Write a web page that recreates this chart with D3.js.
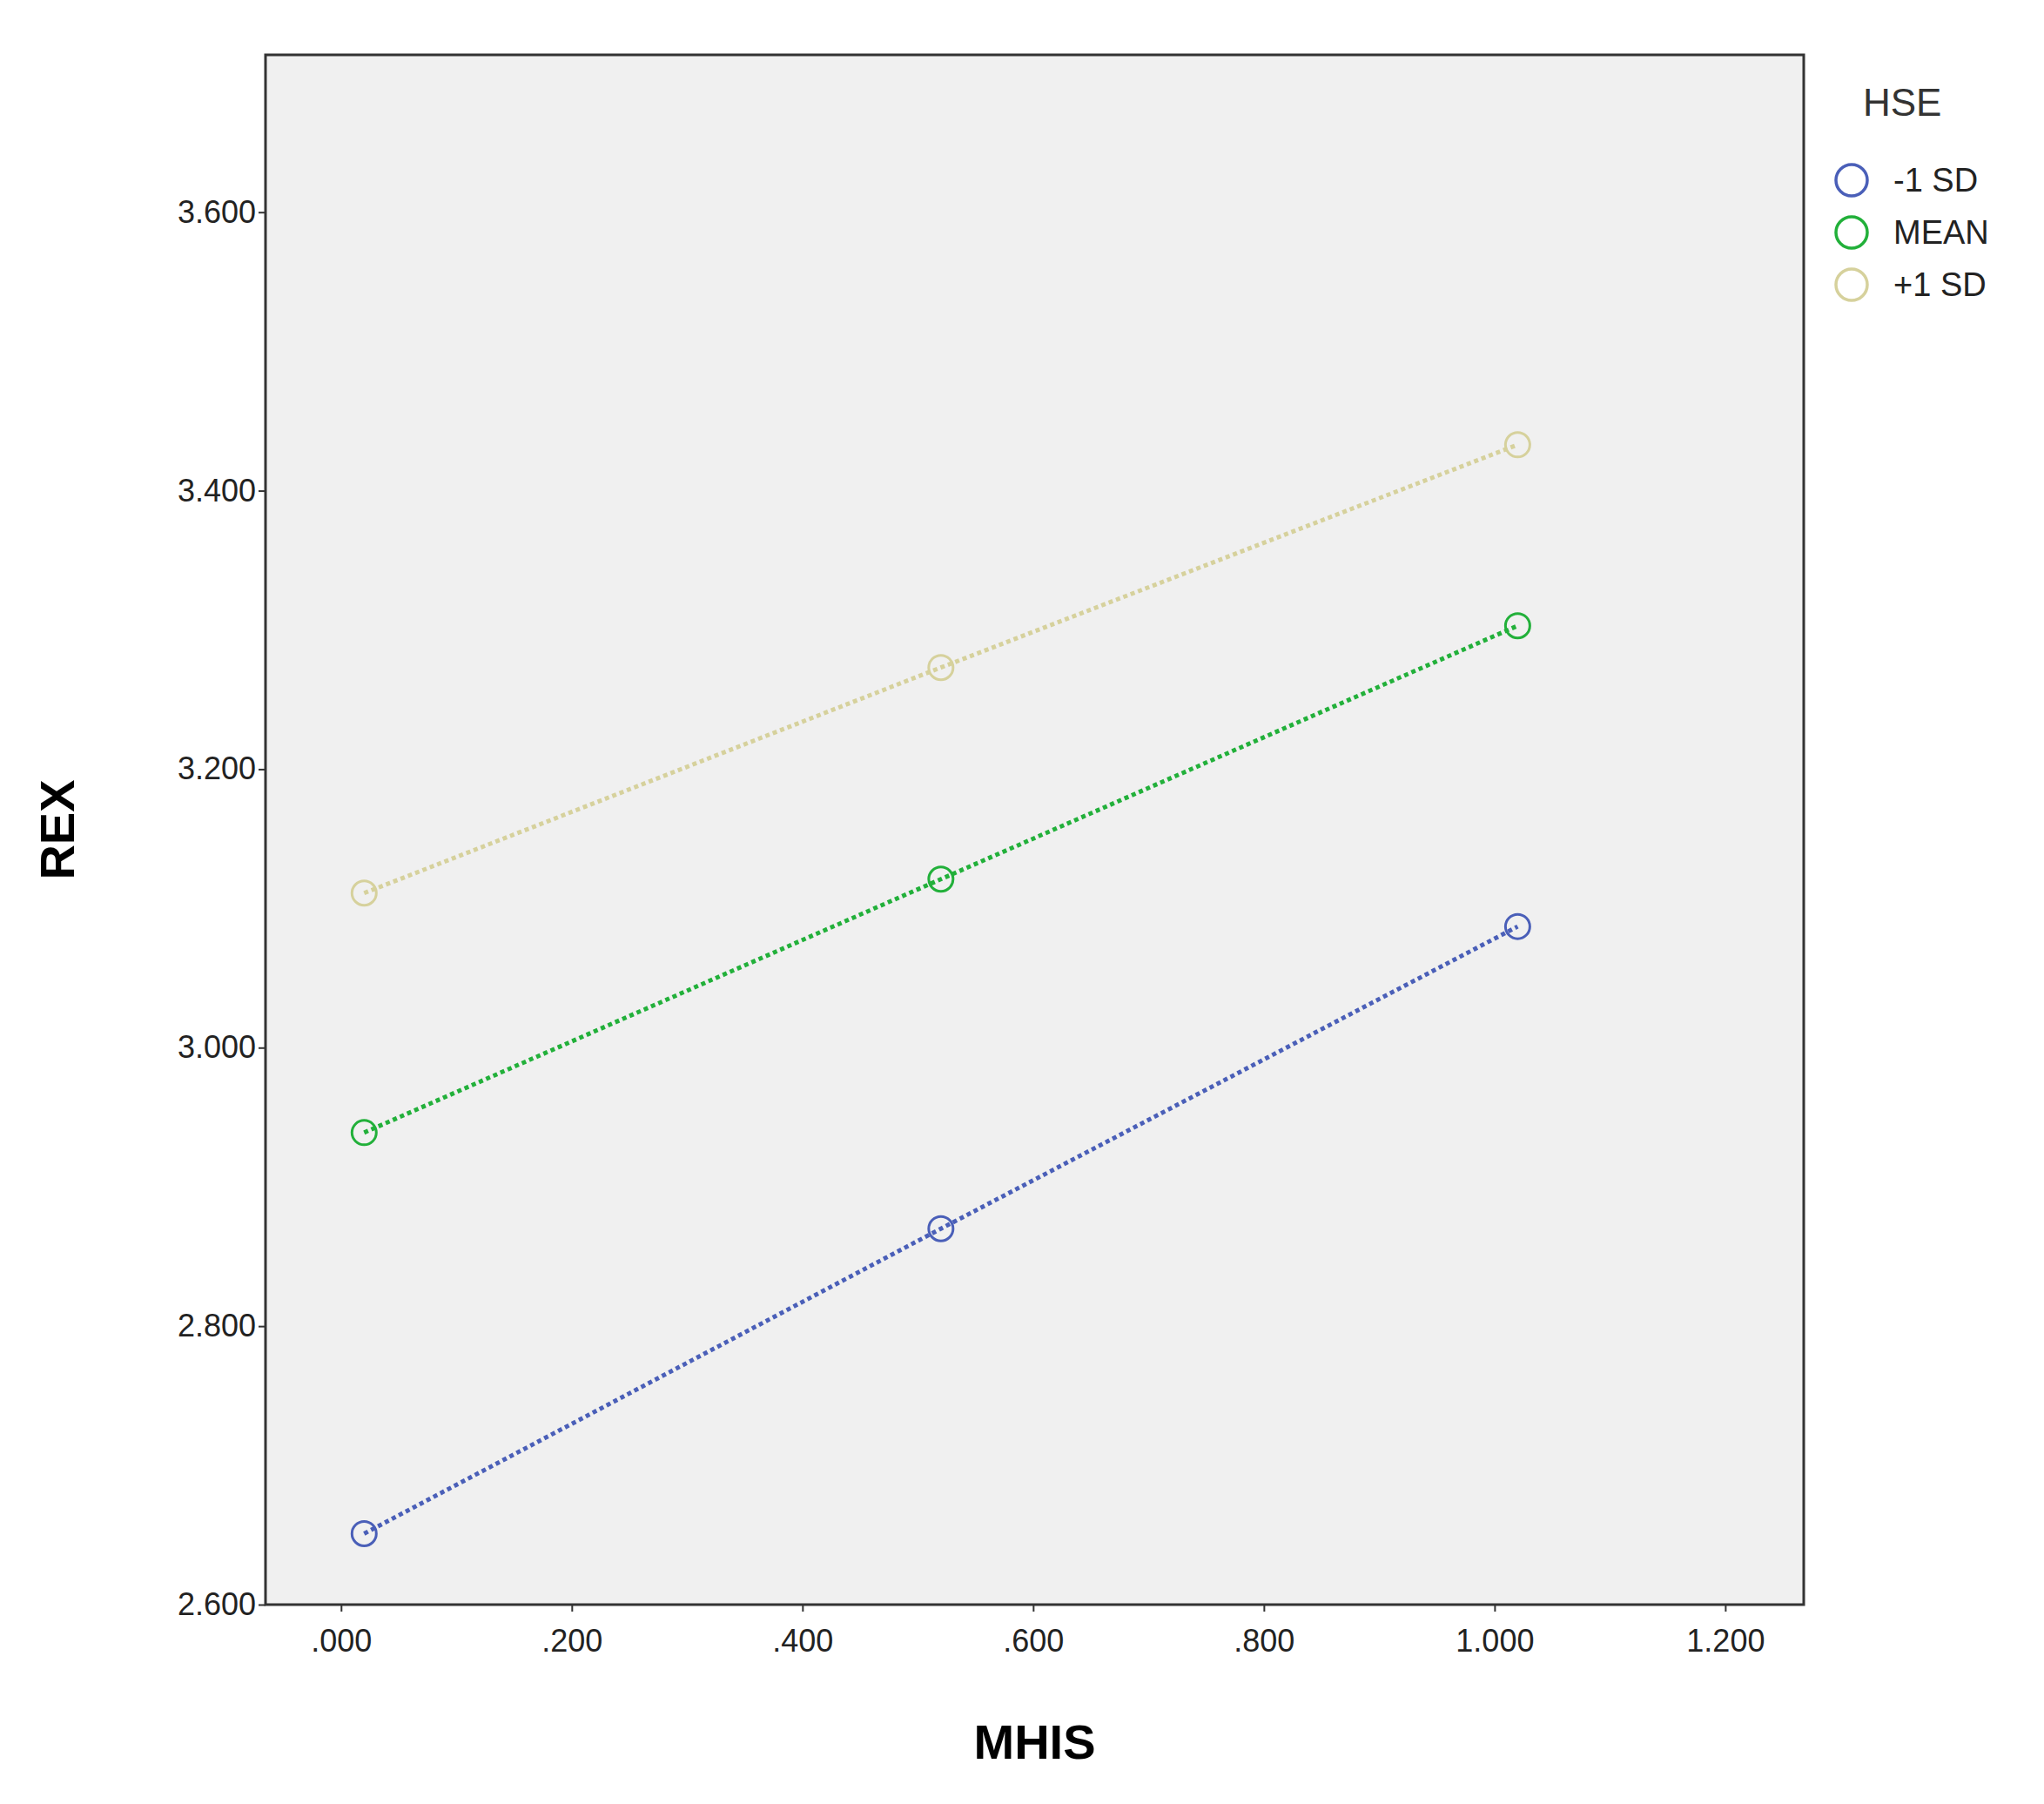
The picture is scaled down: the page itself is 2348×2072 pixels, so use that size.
<!DOCTYPE html>
<html><head><meta charset="utf-8">
<script src="https://cdn.jsdelivr.net/npm/d3@7"></script>
<style>body{margin:0;background:#fff}text{font-family:Arial,"Liberation Sans",sans-serif}</style>
</head><body><svg id="c" width="2348" height="2072"></svg>
<script>
const xVals=[0.02,0.52,1.02];
const seriesNames=["-1 SD","MEAN","+1 SD"];
const seriesColors=["#4a5fb8","#22b03a","#d6d19c"];
const lowSD=[2.651,2.870,3.087];
const meanV=[2.939,3.121,3.303];
const highSD=[3.111,3.273,3.433];
const xTicks=[0,0.2,0.4,0.6,0.8,1.0,1.2];
const yTicks=[2.6,2.8,3.0,3.2,3.4,3.6];
const series=[lowSD,meanV,highSD];

const svg=d3.select("#c");
const L=305,R=2072,T=63,B=1843;
const x=d3.scaleLinear().domain([-0.0655,1.268]).range([L,R]);
const y=d3.scaleLinear().domain([2.6,3.713]).range([B,T]);
svg.append("rect").attr("x",L).attr("y",T).attr("width",R-L).attr("height",B-T).attr("fill","#f0f0f0").attr("stroke","#333").attr("stroke-width",3);
const fmt=d=>d3.format(".3f")(d).replace(/^0/,"");
svg.append("g").attr("transform",`translate(0,${B})`).call(d3.axisBottom(x).tickValues(xTicks).tickFormat(fmt).tickSize(8))
 .call(g=>{g.select(".domain").remove();g.selectAll("line").attr("stroke","#333").attr("stroke-width",2);g.selectAll("text").attr("font-size",36).attr("fill","#222").attr("dy","1.2em");});
svg.append("g").attr("transform",`translate(${L},0)`).call(d3.axisLeft(y).tickValues(yTicks).tickFormat(fmt).tickSize(8))
 .call(g=>{g.select(".domain").remove();g.selectAll("line").attr("stroke","#333").attr("stroke-width",2);g.selectAll("text").attr("font-size",36).attr("fill","#222");});
svg.append("text").attr("x",(L+R)/2).attr("y",2020).attr("text-anchor","middle").attr("font-size",56).attr("font-weight","bold").text("MHIS");
svg.append("text").attr("transform",`translate(85,${(T+B)/2}) rotate(-90)`).attr("text-anchor","middle").attr("font-size",56).attr("font-weight","bold").text("REX");
const line=d3.line().x((d,i)=>x(xVals[i])).y(d=>y(d));
series.forEach((s,k)=>{
 svg.append("path").attr("d",line(s)).attr("fill","none").attr("stroke",seriesColors[k]).attr("stroke-width",5).attr("stroke-dasharray","5,4");
 svg.selectAll(null).data(s).enter().append("circle").attr("cx",(d,i)=>x(xVals[i])).attr("cy",d=>y(d)).attr("r",14).attr("fill","none").attr("stroke",seriesColors[k]).attr("stroke-width",3);
});
svg.append("text").attr("x",2140).attr("y",133).attr("font-size",44).attr("fill","#333").text("HSE");
seriesNames.forEach((n,k)=>{
 const yy=207+k*60;
 svg.append("circle").attr("cx",2127).attr("cy",yy).attr("r",18).attr("fill","none").attr("stroke",seriesColors[k]).attr("stroke-width",3.5);
 svg.append("text").attr("x",2175).attr("y",yy+13).attr("font-size",38).attr("fill","#222").text(n);
});
</script></body></html>
